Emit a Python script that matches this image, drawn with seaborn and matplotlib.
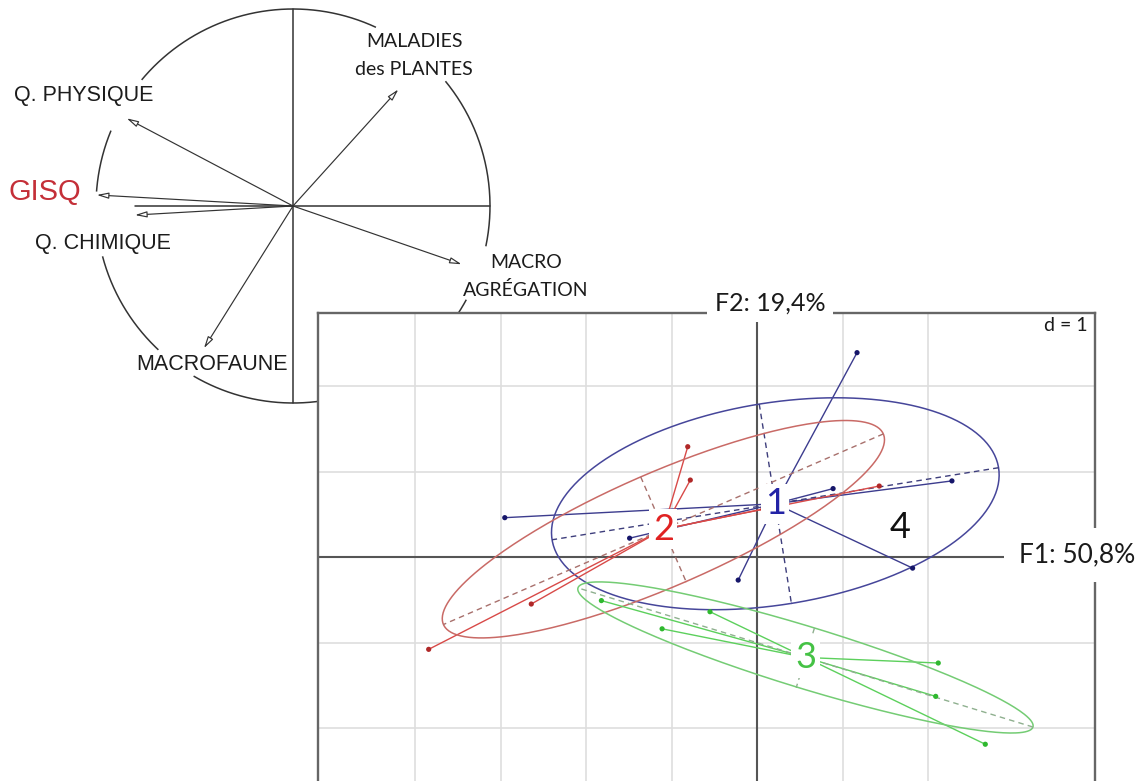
import numpy as np
import pandas as pd
import matplotlib
matplotlib.use("Agg")
import matplotlib.pyplot as plt
import seaborn as sns

# ---- correlation circle: variable loadings on F1 / F2 ----
var_names = ["Q. PHYSIQUE", "GISQ", "Q. CHIMIQUE",
             "MALADIES\ndes PLANTES", "MACRO\nAGRÉGATION", "MACROFAUNE"]
var_f1 = [-0.844, -0.996, -0.802, 0.535, 0.856, -0.452]
var_f2 = [0.445, 0.056, -0.046, 0.592, -0.296, -0.722]

# ---- site scores on F1 / F2, one pair of lists per class ----
grp1_f1 = [1.17, 0.89, 2.28, 1.82, -0.22, -2.95, -1.49]
grp1_f2 = [2.39, 0.80, 0.89, -0.13, -0.27, 0.46, 0.22]
grp2_f1 = [-0.81, -0.78, 1.43, -2.64, -3.84, 0.07]
grp2_f2 = [1.29, 0.90, 0.83, -0.55, -1.08, 0.56]
grp3_f1 = [2.12, 2.09, 2.67, -0.55, -1.82, -1.11]
grp3_f2 = [-1.24, -1.63, -2.19, -0.64, -0.51, -0.84]
grp4_f1 = [1.67]
grp4_f2 = [0.34]
class_labels = ["1", "2", "3", "4"]
axis_titles = ["F1: 50,8%", "F2: 19,4%"]
scale_label = "d = 1"

sns.set_style("white")
plt.rcParams["font.family"] = ["Liberation Sans", "DejaVu Sans"]

W, H = 1146, 781
fig = plt.figure(figsize=(W / 100, H / 100), dpi=100)
fig.patch.set_facecolor("white")

# ================= correlation circle (drawn underneath) =================
R = 197.0            # circle radius in pixels
CX, CY = 293.0, 206.0
axc = fig.add_axes([0, 0, 1, 1])
axc.set_xlim(-CX / R, (W - CX) / R)
axc.set_ylim(-(H - CY) / R, CY / R)
axc.axis("off")

ink = "#333333"
# circle drawn as arcs, leaving room for the labels
arc_spans = [(239.7, 331.6), (348.2, 399.3), (65.1, 140.2),
             (157.5, 175.8), (194.8, 226.9)]
for a0, a1 in arc_spans:
    t = np.radians(np.linspace(a0, a1, 200))
    axc.plot(np.cos(t), np.sin(t), color=ink, lw=1.1, solid_capstyle="butt")
# axes of the circle
axc.plot([0, 0], [-1, 1], color=ink, lw=1.1)
axc.plot([-0.80, 1.0], [0, 0], color=ink, lw=1.1)

for fx, fy in zip(var_f1, var_f2):
    axc.annotate("", xy=(fx, fy), xytext=(0, 0),
                 arrowprops=dict(arrowstyle="-|>,head_length=0.7,head_width=0.18",
                                 fc="white", ec=ink, lw=0.85,
                                 shrinkA=0, shrinkB=0))

# label placement: (x centre, first baseline) in circle units, font, size, colour
lab_style = {
    "Q. PHYSIQUE": (-1.064, 0.533, "Liberation Sans", 15.5, "#1c1c1c"),
    "GISQ": (-1.262, 0.032, "Liberation Sans", 21, "#c42f38"),
    "Q. CHIMIQUE": (-0.967, -0.218, "Liberation Sans", 15.5, "#1c1c1c"),
    "MALADIES\ndes PLANTES": (0.616, 0.805, "Lato", 14, "#1c1c1c"),
    "MACRO\nAGRÉGATION": (1.183, -0.315, "Lato", 14, "#1c1c1c"),
    "MACROFAUNE": (-0.413, -0.832, "Liberation Sans", 15.5, "#1c1c1c"),
}
line_gap = 27.5 / R
for name in var_names:
    lx, ly, fam, fs, col = lab_style[name]
    for i, line in enumerate(name.split("\n")):
        axc.text(lx, ly - i * line_gap, line, ha="center", va="baseline",
                 fontsize=fs, color=col, family=[fam, "DejaVu Sans"])

# ================= factorial map of the sites =================
U = 85.5                     # pixels per unit (d = 1)
OX, OY = 757.0, 557.0        # pixel position of the origin
left_px, right_px, top_px, bot_px = 318, 1095, 313, 800
ax = fig.add_axes([left_px / W, (H - bot_px) / H,
                   (right_px - left_px) / W, (bot_px - top_px) / H])
ax.set_facecolor("white")
ax.set_xlim((left_px - OX) / U, (right_px - OX) / U)
ax.set_ylim((OY - bot_px) / U, (OY - top_px) / U)

ax.set_xticks([-4, -3, -2, -1, 1, 2])
ax.set_yticks([-2, -1, 1, 2])
ax.grid(True, color="#dedede", lw=1.2)
ax.tick_params(length=0, labelbottom=False, labelleft=False)
for sp in ax.spines.values():
    sp.set_color("#666666")
    sp.set_linewidth(1.7)
ax.axhline(0, color="#555555", lw=1.5, zorder=2)
ax.axvline(0, color="#555555", lw=1.5, zorder=2)

groups = [
    (grp1_f1, grp1_f2, "1"),
    (grp2_f1, grp2_f2, "2"),
    (grp3_f1, grp3_f2, "3"),
    (grp4_f1, grp4_f2, "4"),
]
df = pd.concat([pd.DataFrame({"F1": fx, "F2": fy, "classe": c})
                for fx, fy, c in groups], ignore_index=True)

star_col = {"1": "#3c3c8e", "2": "#d84a48", "3": "#5cd05c", "4": "#000000"}
ell_col = {"1": "#46469a", "2": "#c96a66", "3": "#74cc74", "4": "#000000"}
axis_col = {"1": "#3e3e7c", "2": "#a8706c", "3": "#8fb08f", "4": "#000000"}
dot_col = {"1": "#16166a", "2": "#b02828", "3": "#2fb82f", "4": "#000000"}
lab_col = {"1": "#2323a6", "2": "#e02222", "3": "#45c245", "4": "#111111"}

for cls, sub in df.groupby("classe"):
    pts = sub[["F1", "F2"]].to_numpy()
    cen = pts.mean(axis=0)
    if len(pts) > 1:
        # stars from the class centroid
        for p in pts:
            ax.plot([cen[0], p[0]], [cen[1], p[1]], color=star_col[cls],
                    lw=1.0, zorder=3)
        # inertia ellipse (1.5 standard deviations) with its principal axes
        cov = np.cov(pts.T, bias=True)
        vals, vecs = np.linalg.eigh(cov)
        semi = 1.5 * np.sqrt(np.clip(vals, 0, None))
        t = np.linspace(0, 2 * np.pi, 300)
        ell = (cen[:, None] + vecs[:, [0]] * semi[0] * np.cos(t)
               + vecs[:, [1]] * semi[1] * np.sin(t))
        ax.plot(ell[0], ell[1], color=ell_col[cls], lw=1.1, zorder=3)
        for k in range(2):
            d = vecs[:, k] * semi[k]
            ax.plot([cen[0] - d[0], cen[0] + d[0]], [cen[1] - d[1], cen[1] + d[1]],
                    color=axis_col[cls], lw=1.0, ls=(0, (4, 3)), zorder=3)
    ax.text(cen[0], cen[1], cls, ha="center", va="center", fontsize=26,
            color=lab_col[cls], family=["Lato", "DejaVu Sans"], zorder=6,
            bbox=dict(boxstyle="square,pad=0.1", fc="white", ec="none"))

sns.scatterplot(data=df[df["classe"] != "4"], x="F1", y="F2", hue="classe",
                palette=dot_col, s=14, edgecolor="none", legend=False,
                ax=ax, zorder=4)
ax.set_xlabel("")
ax.set_ylabel("")

# axis titles sit on the frame, masking it
ax.text((1077 - OX) / U, (OY - 555) / U, axis_titles[0], ha="center", va="center",
        fontsize=19, color="#1a1a1a", family=["Lato", "DejaVu Sans"],
        zorder=7, clip_on=False,
        bbox=dict(boxstyle="square,pad=0.55", fc="white", ec="none"))
ax.text((770 - OX) / U, (OY - 303) / U, axis_titles[1], ha="center", va="center",
        fontsize=18, color="#1a1a1a", family=["Lato", "DejaVu Sans"],
        zorder=7, clip_on=False,
        bbox=dict(boxstyle="square,pad=0.3", fc="white", ec="none"))
ax.text((1088 - OX) / U, (OY - 317) / U, scale_label, ha="right", va="top",
        fontsize=14, color="#1a1a1a", family=["Lato", "DejaVu Sans"], zorder=7)

fig.savefig("out.png", dpi=100)
